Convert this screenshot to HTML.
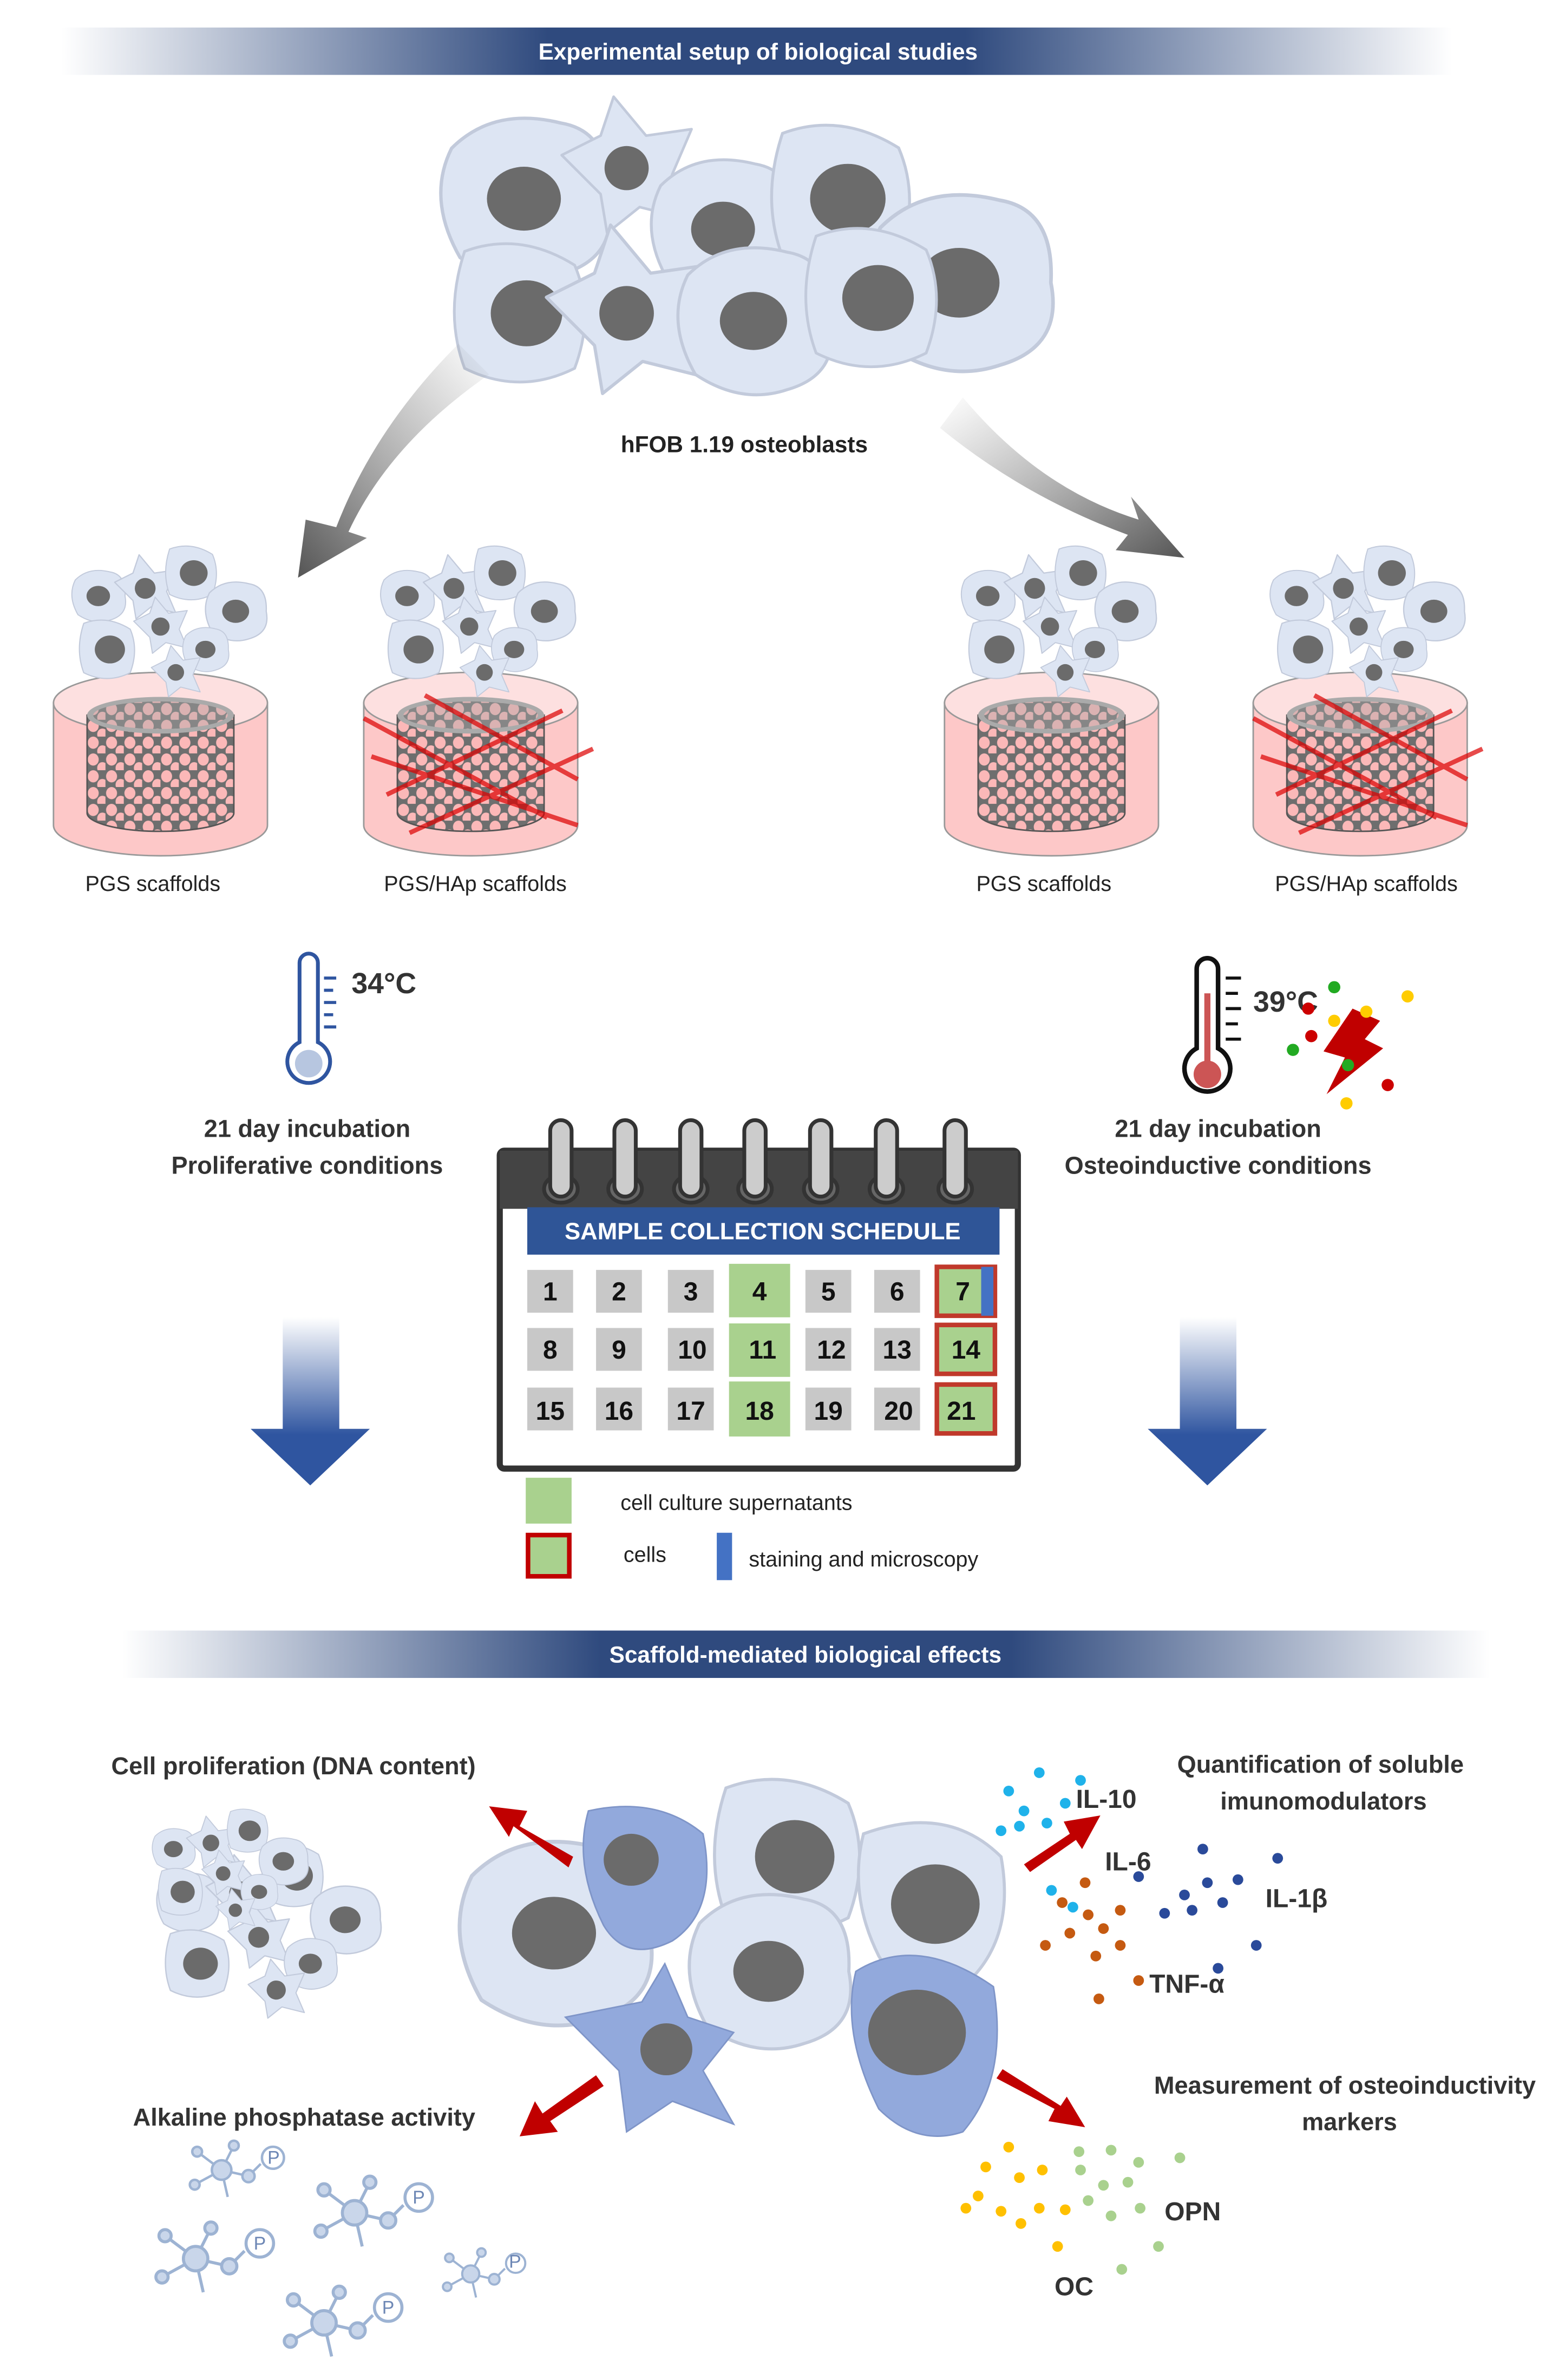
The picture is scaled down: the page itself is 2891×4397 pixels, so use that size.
<!DOCTYPE html>
<html><head><meta charset="utf-8">
<style>
html,body{margin:0;padding:0;background:#fff}
svg{display:block}
text{font-family:"Liberation Sans",sans-serif}
.b{font-weight:bold}
</style></head><body>
<svg width="2891" height="4397" viewBox="0 0 1024 1557.4" xmlns="http://www.w3.org/2000/svg">
<defs>
<linearGradient id="ban" x1="0" x2="1" y1="0" y2="0">
<stop offset="0" stop-color="#2f4a7e" stop-opacity="0"/>
<stop offset="0.35" stop-color="#2f4a7e"/>
<stop offset="0.65" stop-color="#2f4a7e"/>
<stop offset="1" stop-color="#2f4a7e" stop-opacity="0"/>
</linearGradient>
<linearGradient id="dn" x1="0" x2="0" y1="0" y2="1">
<stop offset="0" stop-color="#2f55a0" stop-opacity="0"/>
<stop offset="0.7" stop-color="#2f55a0"/>
<stop offset="1" stop-color="#2f55a0"/>
</linearGradient>
<linearGradient id="gl" x1="1" x2="0" y1="0" y2="1">
<stop offset="0" stop-color="#777" stop-opacity="0"/>
<stop offset="1" stop-color="#555"/>
</linearGradient>
<linearGradient id="gr" x1="0" x2="1" y1="0" y2="1">
<stop offset="0" stop-color="#777" stop-opacity="0"/>
<stop offset="1" stop-color="#555"/>
</linearGradient>
<pattern id="pores" width="12" height="11" patternUnits="userSpaceOnUse">
<rect width="12" height="11" fill="#6e6e6e"/>
<ellipse cx="4" cy="4" rx="3.6" ry="4" fill="#fbb8b8"/>
<ellipse cx="10" cy="9.5" rx="3.4" ry="3.8" fill="#fbb8b8"/>
</pattern>
<g id="cA"><path d="M-45,-30 Q-20,-55 20,-45 Q50,-40 48,0 Q55,35 20,45 Q-10,55 -40,35 Q-60,0 -45,-30Z" fill="#dde5f3" stroke="#c2cadb" stroke-width="2"/><ellipse cx="-2" cy="0" rx="22" ry="19" fill="#6b6b6b"/></g>
<g id="cB"><path d="M-50,-10 L-20,-25 L-10,-55 L15,-25 L50,-30 L35,5 L50,40 L10,30 L-15,50 L-20,20 Z" fill="#dde5f3" stroke="#c2cadb" stroke-width="2" stroke-linejoin="round"/><ellipse cx="0" cy="0" rx="17" ry="17" fill="#6b6b6b"/></g>
<g id="cC"><path d="M-40,-45 Q0,-60 40,-35 Q55,0 40,40 Q0,60 -40,40 Q-55,0 -40,-45Z" fill="#dde5f3" stroke="#c2cadb" stroke-width="2"/><ellipse cx="5" cy="0" rx="26" ry="24" fill="#6b6b6b"/></g>
<g id="cl">
<use href="#cA" transform="translate(-45,-15) scale(.35)"/>
<use href="#cB" transform="translate(-15,-20) scale(.4)"/>
<use href="#cC" transform="translate(15,-30) scale(.35)"/>
<use href="#cA" transform="translate(45,-5) scale(.4)"/>
<use href="#cB" transform="translate(-5,5) scale(.35)"/>
<use href="#cC" transform="translate(-40,20) scale(.38)"/>
<use href="#cA" transform="translate(25,20) scale(.3)"/>
<use href="#cB" transform="translate(5,35) scale(.32)"/>
</g>
<g id="scaf">
<path d="M-70,0 L-70,80 A70,20 0 0 0 70,80 L70,0 Z" fill="#fdc8c8" stroke="#999" stroke-width="1"/>
<ellipse cx="0" cy="0" rx="70" ry="20" fill="#fde0e0" stroke="#999"/>
<path d="M-48,8 L-48,72 A48,12 0 0 0 48,72 L48,8 Z" fill="url(#pores)" stroke="#555"/>
<ellipse cx="0" cy="8" rx="48" ry="12" fill="#aaa"/>
<ellipse cx="0" cy="8" rx="44" ry="9" fill="url(#pores)" opacity=".6"/>
</g>
<g id="cross" stroke="#d00" stroke-width="3" opacity=".7">
<line x1="-70" y1="10" x2="50" y2="75"/><line x1="-55" y1="60" x2="60" y2="5"/>
<line x1="-65" y1="35" x2="70" y2="80"/><line x1="-40" y1="85" x2="80" y2="30"/>
<line x1="-30" y1="-5" x2="70" y2="50"/>
</g>
<g id="mol" stroke="#9db3d3" stroke-width="2" fill="#c9d6ea">
<line x1="0" y1="0" x2="-20" y2="-15"/><line x1="0" y1="0" x2="-22" y2="12"/><line x1="0" y1="0" x2="10" y2="-20"/><line x1="0" y1="0" x2="22" y2="5"/><line x1="22" y1="5" x2="32" y2="-5"/><line x1="0" y1="0" x2="5" y2="22"/>
<circle r="8"/><circle cx="-20" cy="-15" r="4"/><circle cx="-22" cy="12" r="4"/><circle cx="10" cy="-20" r="4"/><circle cx="22" cy="5" r="5"/>
<circle cx="42" cy="-10" r="9" fill="#fff"/>
</g>
</defs>

<rect x="40" y="18" width="910" height="31" fill="url(#ban)"/>
<text x="496" y="39" font-size="15" fill="#fff" class="b" text-anchor="middle">Experimental setup of biological studies</text>

<use href="#cA" transform="translate(345,130) scale(1.1)"/>
<use href="#cB" transform="translate(410,110) scale(.85)"/>
<use href="#cA" transform="translate(475,150) scale(.95)"/>
<use href="#cC" transform="translate(550,130) scale(.95)"/>
<use href="#cA" transform="translate(630,185) scale(1.2)"/>
<use href="#cC" transform="translate(340,205) scale(.9)"/>
<use href="#cB" transform="translate(410,205) scale(1.05)"/>
<use href="#cA" transform="translate(495,210) scale(1)"/>
<use href="#cC" transform="translate(570,195) scale(.9)"/>
<text x="487" y="296" font-size="15" class="b" text-anchor="middle" fill="#222">hFOB 1.19 osteoblasts</text>

<path d="M300,225 Q245,280 220,345 L200,340 L195,378 L240,352 L228,348 Q255,290 320,245 Z" fill="url(#gl)"/>
<path d="M630,260 Q680,320 745,340 L740,325 L775,365 L730,360 L738,350 Q670,325 615,280 Z" fill="url(#gr)"/>

<g transform="translate(105,460)"><use href="#scaf"/></g>
<use href="#cl" transform="translate(110,405)"/>
<g transform="translate(308,460)"><use href="#scaf"/><use href="#cross"/></g>
<use href="#cl" transform="translate(312,405)"/>
<g transform="translate(688,460)"><use href="#scaf"/></g>
<use href="#cl" transform="translate(692,405)"/>
<g transform="translate(890,460)"><use href="#scaf"/><use href="#cross"/></g>
<use href="#cl" transform="translate(894,405)"/>
<g font-size="14" fill="#222" text-anchor="middle">
<text x="100" y="583">PGS scaffolds</text>
<text x="311" y="583">PGS/HAp scaffolds</text>
<text x="683" y="583">PGS scaffolds</text>
<text x="894" y="583">PGS/HAp scaffolds</text>
</g>

<g fill="none" stroke="#2f55a0" stroke-width="2.5">
<path d="M196,630 a6,6 0 0 1 12,0 v52 a14,14 0 1 1 -12,0 z"/>
</g>
<circle cx="202" cy="696" r="9" fill="#b7c6e0"/>
<g stroke="#2f55a0" stroke-width="2"><line x1="212" y1="640" x2="220" y2="640"/><line x1="212" y1="648" x2="218" y2="648"/><line x1="212" y1="656" x2="220" y2="656"/><line x1="212" y1="664" x2="218" y2="664"/><line x1="212" y1="672" x2="220" y2="672"/></g>
<text x="230" y="650" font-size="19" class="b" fill="#333">34°C</text>
<g fill="none" stroke="#111" stroke-width="3">
<path d="M783,634 a7,7 0 0 1 14,0 v52 a15,15 0 1 1 -14,0 z"/>
</g>
<rect x="788" y="650" width="4" height="45" fill="#c55"/>
<circle cx="790" cy="703" r="9" fill="#c55"/>
<g stroke="#111" stroke-width="2"><line x1="802" y1="640" x2="812" y2="640"/><line x1="802" y1="650" x2="810" y2="650"/><line x1="802" y1="660" x2="812" y2="660"/><line x1="802" y1="670" x2="810" y2="670"/><line x1="802" y1="680" x2="812" y2="680"/></g>
<text x="820" y="662" font-size="19" class="b" fill="#333">39°C</text>
<path d="M885,660 L903,668 L893,680 L905,686 L868,716 L880,692 L866,688 Z" fill="#c00000"/>
<g><circle cx="873" cy="646" r="4" fill="#2a2"/><circle cx="856" cy="660" r="4" fill="#c00"/><circle cx="873" cy="668" r="4" fill="#fc0"/><circle cx="858" cy="678" r="4" fill="#c00"/><circle cx="846" cy="687" r="4" fill="#2a2"/><circle cx="882" cy="697" r="4" fill="#2a2"/><circle cx="921" cy="652" r="4" fill="#fc0"/><circle cx="894" cy="662" r="4" fill="#fc0"/><circle cx="908" cy="710" r="4" fill="#c00"/><circle cx="881" cy="722" r="4" fill="#fc0"/></g>

<g font-size="16" class="b" fill="#333" text-anchor="middle">
<text x="201" y="744">21 day incubation</text>
<text x="201" y="768">Proliferative conditions</text>
<text x="797" y="744">21 day incubation</text>
<text x="797" y="768">Osteoinductive conditions</text>
</g>

<rect x="327" y="753" width="339" height="208" rx="3" fill="#fff" stroke="#333" stroke-width="4"/>
<rect x="327" y="753" width="339" height="38" fill="#444"/>
<g fill="#ccc" stroke="#333" stroke-width="2.5">
<g id="ring"><ellipse cx="367" cy="778" rx="11" ry="9" fill="#666"/><rect x="360" y="733" width="14" height="50" rx="7"/></g>
<use href="#ring" x="42"/><use href="#ring" x="85"/><use href="#ring" x="127"/><use href="#ring" x="170"/><use href="#ring" x="213"/><use href="#ring" x="258"/>
</g>
<rect x="345" y="790" width="309" height="31" fill="#2f5597"/>
<text x="499" y="811" font-size="15.5" class="b" fill="#fff" text-anchor="middle">SAMPLE COLLECTION SCHEDULE</text>
<g fill="#c8c8c8">
<rect x="345" y="831" width="30" height="28"/><rect x="390" y="831" width="30" height="28"/><rect x="437" y="831" width="30" height="28"/><rect x="527" y="831" width="30" height="28"/><rect x="572" y="831" width="30" height="28"/>
<rect x="345" y="869" width="30" height="28"/><rect x="390" y="869" width="30" height="28"/><rect x="437" y="869" width="30" height="28"/><rect x="527" y="869" width="30" height="28"/><rect x="572" y="869" width="30" height="28"/>
<rect x="345" y="908" width="30" height="28"/><rect x="390" y="908" width="30" height="28"/><rect x="437" y="908" width="30" height="28"/><rect x="527" y="908" width="30" height="28"/><rect x="572" y="908" width="30" height="28"/>
</g>
<g fill="#a9d18e"><rect x="477" y="827" width="40" height="35"/><rect x="477" y="866" width="40" height="35"/><rect x="477" y="904" width="40" height="36"/></g>
<g fill="#a9d18e" stroke="#c0392b" stroke-width="3"><rect x="613" y="829" width="38" height="32"/><rect x="613" y="867" width="38" height="32"/><rect x="613" y="906" width="38" height="32"/></g>
<rect x="642" y="829" width="8" height="32" fill="#4472c4"/>
<g font-size="17" class="b" fill="#111" text-anchor="middle">
<text x="360" y="851">1</text><text x="405" y="851">2</text><text x="452" y="851">3</text><text x="497" y="851">4</text><text x="542" y="851">5</text><text x="587" y="851">6</text><text x="630" y="851">7</text>
<text x="360" y="889">8</text><text x="405" y="889">9</text><text x="453" y="889">10</text><text x="499" y="889">11</text><text x="544" y="889">12</text><text x="587" y="889">13</text><text x="632" y="889">14</text>
<text x="360" y="929">15</text><text x="405" y="929">16</text><text x="452" y="929">17</text><text x="497" y="929">18</text><text x="542" y="929">19</text><text x="588" y="929">20</text><text x="629" y="929">21</text>
</g>
<rect x="344" y="967" width="30" height="30" fill="#a9d18e"/>
<rect x="345.5" y="1004.5" width="27" height="27" fill="#a9d18e" stroke="#c00000" stroke-width="3"/>
<rect x="469" y="1003" width="10" height="31" fill="#4472c4"/>
<g font-size="14" fill="#222"><text x="406" y="988">cell culture supernatants</text><text x="408" y="1022">cells</text><text x="490" y="1025">staining and microscopy</text></g>

<path d="M185,862 H222 V935 H242 L203,972 L164,935 H185 Z" fill="url(#dn)"/>
<path d="M772,862 H809 V935 H829 L790,972 L751,935 H772 Z" fill="url(#dn)"/>

<rect x="80" y="1067" width="895" height="31" fill="url(#ban)"/>
<text x="527" y="1088" font-size="15" class="b" fill="#fff" text-anchor="middle">Scaffold-mediated biological effects</text>

<text x="192" y="1161" font-size="16" class="b" fill="#333" text-anchor="middle">Cell proliferation (DNA content)</text>
<use href="#cl" transform="translate(175,1262) scale(1.15)"/>
<use href="#cl" transform="translate(150,1222) scale(.8)"/>

<use href="#cA" transform="translate(365,1265) scale(1.25)"/>
<path d="M385,1185 Q430,1175 460,1200 Q470,1250 440,1270 Q410,1285 395,1260 Q375,1220 385,1185Z" fill="#92a9dc" stroke="#7f95c8"/>
<ellipse cx="413" cy="1217" rx="18" ry="17" fill="#6b6b6b"/>
<use href="#cC" transform="translate(515,1215) scale(1)"/>
<use href="#cA" transform="translate(505,1290) scale(1.05)"/>
<path d="M565,1200 Q620,1180 655,1215 Q665,1270 630,1300 Q590,1305 575,1280 Q555,1240 565,1200Z" fill="#dde5f3" stroke="#c2cadb" stroke-width="2"/>
<ellipse cx="612" cy="1246" rx="29" ry="26" fill="#6b6b6b"/>
<path d="M560,1290 Q600,1265 650,1300 Q660,1360 630,1395 Q600,1405 575,1380 Q550,1330 560,1290Z" fill="#92a9dc" stroke="#7f95c8"/>
<ellipse cx="600" cy="1330" rx="32" ry="28" fill="#6b6b6b"/>
<path d="M370,1320 L420,1310 L435,1285 L450,1320 L480,1330 L460,1355 L480,1390 L440,1375 L410,1395 L405,1355 Z" fill="#92a9dc" stroke="#7f95c8"/>
<ellipse cx="436" cy="1341" rx="17" ry="17" fill="#6b6b6b"/>

<g fill="#c00000">
<path d="M375,1215 L340,1195 L345,1185 L320,1182 L333,1202 L336,1195 L372,1222 Z" />
<path d="M670,1220 L700,1200 L696,1192 L720,1188 L708,1210 L704,1204 L674,1225 Z"/>
<path d="M390,1358 L355,1383 L350,1375 L340,1398 L365,1395 L360,1388 L395,1365 Z"/>
<path d="M652,1360 L690,1380 L686,1388 L710,1392 L698,1372 L694,1378 L656,1354 Z"/>
</g>

<g font-size="16" class="b" fill="#333" text-anchor="middle">
<text x="864" y="1160">Quantification of soluble</text>
<text x="866" y="1184">imunomodulators</text>
<text x="880" y="1370">Measurement of osteoinductivity</text>
<text x="883" y="1394">markers</text>
<text x="199" y="1391">Alkaline phosphatase activity</text>
</g>
<g font-size="17" class="b" fill="#333">
<text x="704" y="1183">IL-10</text><text x="723" y="1224">IL-6</text><text x="828" y="1248">IL-1β</text><text x="752" y="1304">TNF-α</text>
<text x="762" y="1453">OPN</text><text x="690" y="1502">OC</text>
</g>
<g fill="#1fb2ea"><circle cx="660" cy="1172" r="3.5"/><circle cx="680" cy="1160" r="3.5"/><circle cx="670" cy="1185" r="3.5"/><circle cx="697" cy="1180" r="3.5"/><circle cx="655" cy="1198" r="3.5"/><circle cx="685" cy="1193" r="3.5"/><circle cx="707" cy="1165" r="3.5"/><circle cx="667" cy="1195" r="3.5"/><circle cx="688" cy="1237" r="3.5"/><circle cx="702" cy="1248" r="3.5"/></g>
<g fill="#2a4a9a"><circle cx="787" cy="1210" r="3.5"/><circle cx="810" cy="1230" r="3.5"/><circle cx="790" cy="1232" r="3.5"/><circle cx="775" cy="1240" r="3.5"/><circle cx="762" cy="1252" r="3.5"/><circle cx="780" cy="1250" r="3.5"/><circle cx="800" cy="1245" r="3.5"/><circle cx="836" cy="1216" r="3.5"/><circle cx="822" cy="1273" r="3.5"/><circle cx="797" cy="1288" r="3.5"/><circle cx="745" cy="1228" r="3.5"/></g>
<g fill="#c55a11"><circle cx="695" cy="1245" r="3.5"/><circle cx="710" cy="1232" r="3.5"/><circle cx="712" cy="1253" r="3.5"/><circle cx="733" cy="1250" r="3.5"/><circle cx="700" cy="1265" r="3.5"/><circle cx="684" cy="1273" r="3.5"/><circle cx="717" cy="1280" r="3.5"/><circle cx="733" cy="1273" r="3.5"/><circle cx="745" cy="1296" r="3.5"/><circle cx="719" cy="1308" r="3.5"/><circle cx="722" cy="1262" r="3.5"/></g>
<g fill="#ffc000"><circle cx="645" cy="1418" r="3.5"/><circle cx="660" cy="1405" r="3.5"/><circle cx="667" cy="1425" r="3.5"/><circle cx="640" cy="1437" r="3.5"/><circle cx="655" cy="1447" r="3.5"/><circle cx="632" cy="1445" r="3.5"/><circle cx="682" cy="1420" r="3.5"/><circle cx="680" cy="1445" r="3.5"/><circle cx="668" cy="1455" r="3.5"/><circle cx="692" cy="1470" r="3.5"/><circle cx="697" cy="1446" r="3.5"/></g>
<g fill="#a9d18e"><circle cx="706" cy="1408" r="3.5"/><circle cx="727" cy="1407" r="3.5"/><circle cx="707" cy="1420" r="3.5"/><circle cx="722" cy="1430" r="3.5"/><circle cx="738" cy="1428" r="3.5"/><circle cx="712" cy="1440" r="3.5"/><circle cx="727" cy="1450" r="3.5"/><circle cx="746" cy="1445" r="3.5"/><circle cx="772" cy="1412" r="3.5"/><circle cx="758" cy="1470" r="3.5"/><circle cx="734" cy="1485" r="3.5"/><circle cx="745" cy="1415" r="3.5"/></g>

<use href="#mol" transform="translate(145,1420) scale(.8)"/>
<use href="#mol" transform="translate(232,1448)"/>
<use href="#mol" transform="translate(128,1478)"/>
<use href="#mol" transform="translate(212,1520)"/>
<use href="#mol" transform="translate(308,1488) scale(.7)"/>
<g font-size="12" fill="#6d87b5" text-anchor="middle">
<text x="179" y="1416">P</text><text x="274" y="1442">P</text><text x="170" y="1472">P</text><text x="254" y="1514">P</text><text x="337" y="1484">P</text>
</g>
</svg>
</body></html>
